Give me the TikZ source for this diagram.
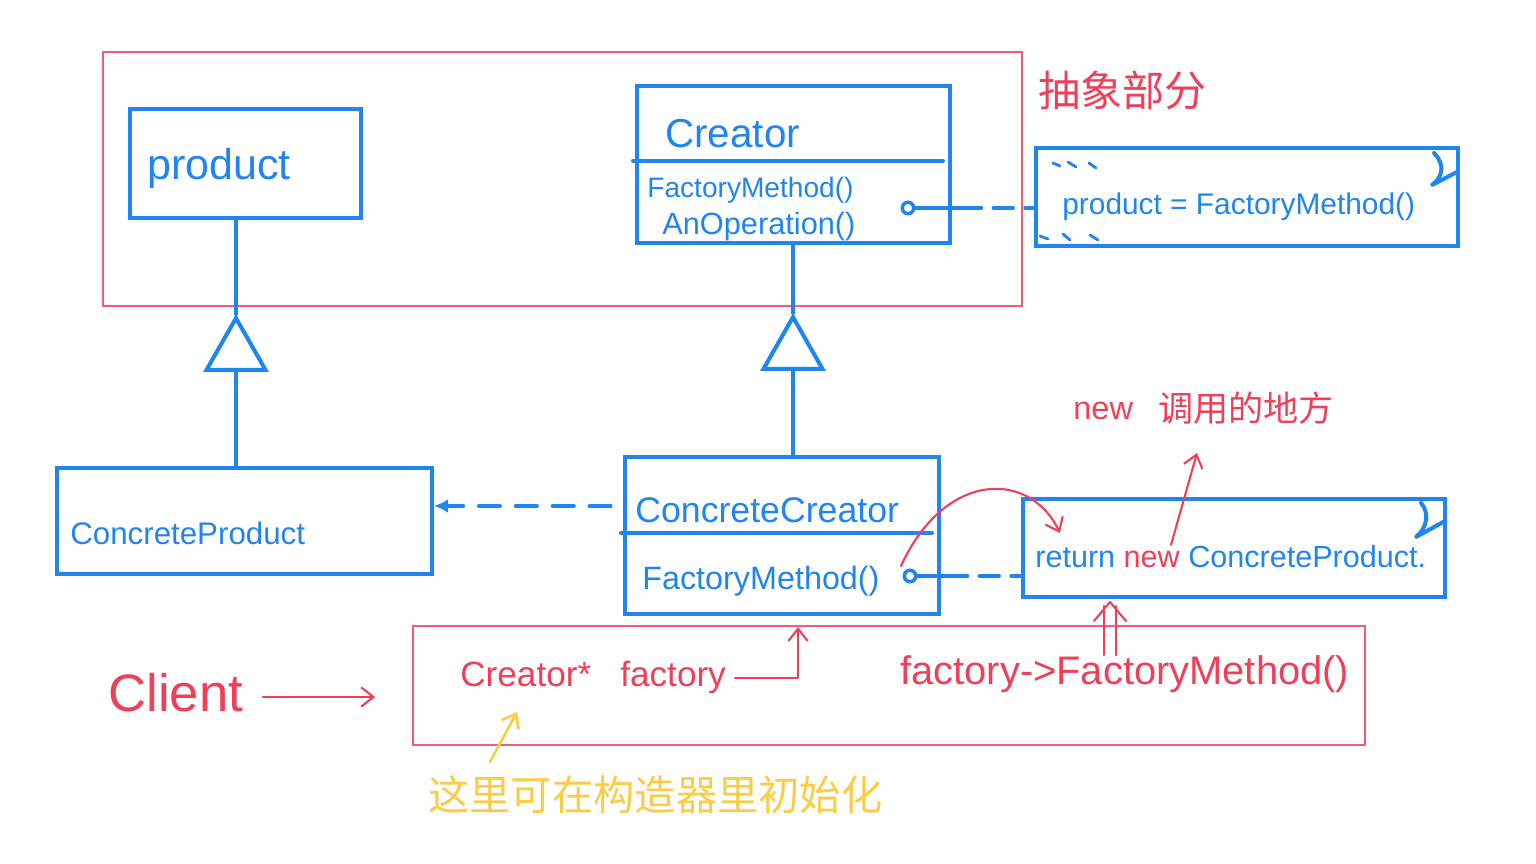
\documentclass[tikz,border=0pt]{standalone}
\usepackage{fontspec}
\setmainfont{Liberation Sans}
\newfontfamily\cjk{Noto Sans CJK SC}
\usetikzlibrary{arrows.meta,fit,calc}
\definecolor{ublue}{RGB}{33,133,240}
\definecolor{pred}{RGB}{238,64,88}
\definecolor{pyel}{RGB}{250,204,72}
\newcommand{\myfs}[1]{\fontsize{#1pt}{#1pt}\selectfont}
\begin{document}
\begin{tikzpicture}[x=0.02cm,y=-0.02cm,
  bline/.style={draw=ublue,line width=2.3pt,line cap=round,line join=round},
  ubox/.style={draw=ublue,line width=2.3pt,inner sep=0pt,rectangle},
  rbox/.style={draw=pred!85,line width=1.1pt,inner sep=0pt,rectangle},
  pen/.style={draw=pred,line width=1.2pt,line cap=round,line join=round},
  ypen/.style={draw=pyel,line width=1.5pt,line cap=round,line join=round},
  btxt/.style={text=ublue,anchor=base west,inner sep=0pt},
  rtxt/.style={text=pred,anchor=base west,inner sep=0pt},
  ucirc/.style={circle,draw=ublue,line width=2pt,fill=white,minimum size=6.5pt,inner sep=0pt},
  barb/.style={-{Straight Barb[length=7pt,width=11pt]}},
  inh/.style={-{Triangle[open,length=33pt,width=37pt]}},
  dashA/.style={dash pattern=on 11pt off 7pt},
  dashB/.style={dash pattern=on 12pt off 9pt}
]
\useasboundingbox (0,0) rectangle (1536,864);
\fill[white] (0,0) rectangle (1536,864);

% abstract part frame
\node[rbox,fit={(103,52) (1022,306)}] (abs) {};
\node[text=pred,anchor=west,inner sep=0pt,font=\cjk\myfs{24}] (abslbl) at (1038,90) {抽象部分};

% product
\node[ubox,fit={(130,109) (361,218)}] (product) {};
\node[btxt,font=\myfs{24.5}] (producttxt) at (147,180) {product};

% Creator
\node[ubox,fit={(637,86) (950,243)}] (creator) {};
\draw[bline] (633,161) -- (943,161);
\node[btxt,font=\myfs{23}] (creatortxt) at (665,148) {Creator};
\node[btxt,font=\myfs{16}] (cfm) at (647,198) {FactoryMethod()};
\node[btxt,font=\myfs{17.5}] (cop) at (662,235) {AnOperation()};

% note 1
\node[ubox,fit={(1036,148) (1458,246)}] (note1) {};
\draw[bline] (1434,153) .. controls (1446,165) and (1442,178) .. (1432,185) -- (1457,172);
\node[btxt,font=\myfs{17}] (note1txt) at (1062,215) {product = FactoryMethod()};
\draw[ublue,line width=1.6pt,line cap=round]
  (1053,163) -- (1060,166) (1068,162) -- (1076,167) (1089,163) -- (1096,168)
  (1040,236) -- (1048,239) (1063,234) -- (1070,240) (1090,235) -- (1098,240);
\node[ucirc] (c1) at (908,208) {};
\coordinate (e1) at (962,208);
\draw[bline] (c1) -- (e1);
\draw[bline,dashA] (e1) -- (note1.west |- c1);

% ConcreteProduct + inheritance
\node[ubox,fit={(57,468) (432,574)}] (cp) {};
\node[btxt,font=\myfs{17.8}] (cptxt) at (70,545) {ConcreteProduct};
\coordinate (apex1) at (236,314);
\draw[bline] (apex1) -- (apex1 |- product.south);
\draw[bline,inh] (apex1 |- cp.north) -- (apex1);

% ConcreteCreator + inheritance
\node[ubox,fit={(625,457) (939,614)}] (cc) {};
\draw[bline] (621,533) -- (932,533);
\node[btxt,font=\myfs{20.3}] (cctxt) at (635,523) {ConcreteCreator};
\node[btxt,font=\myfs{18.4}] (ccfm) at (642,590) {FactoryMethod()};
\coordinate (apex2) at (793,313);
\draw[bline] (apex2) -- (apex2 |- creator.south);
\draw[bline,inh] (apex2 |- cc.north) -- (apex2);

% dependency
\coordinate (ydep) at (0,506);
\draw[bline,dashB,-{Latex[length=8pt,width=8pt]},shorten <=7pt] (cc.west |- ydep) -- (cp.east |- ydep);

% note 2
\node[ubox,fit={(1023,499) (1445,597)}] (note2) {};
\draw[bline] (1421,503) .. controls (1430,513) and (1427,528) .. (1416,537) -- (1445,521);
\node[btxt,font=\myfs{17.4}] (note2txt) at (1035,568) {return \textcolor{pred}{new} ConcreteProduct.};
\node[ucirc] (c2) at (910,576) {};
\coordinate (e2) at (948,576);
\draw[bline] (c2) -- (e2);
\draw[bline,dashA] (e2) -- (note2.west |- c2);

% red annotations
\coordinate (cs) at (901,566);
\coordinate (ce) at (1060,533);
\draw[pen,barb] (cs) .. controls (945,470) and (1030,470) .. (ce);
\node[rtxt,font=\myfs{18.5}] (newlbl) at (1073,420) {new};
\node[text=pred,anchor=west,inner sep=0pt,font=\cjk\myfs{20}] (newcn) at (1158,408) {调用的地方};
\coordinate (newpt) at (1171,545);
\coordinate (newtip) at (1197,453);
\draw[pen,barb] (newpt) -- (newtip);

% client box
\node[rbox,fit={(413,626) (1365,745)}] (cbox) {};
\node[rtxt,font=\myfs{30}] (client) at (108,712) {Client};
\coordinate (cl) at (0,697);
\draw[pen,barb,shorten <=11pt,shorten >=21pt] (client.east |- cl) -- (cbox.west |- cl);
\node[rtxt,font=\myfs{20}] (cstar) at (460,687) {Creator*};
\node[rtxt,font=\myfs{20}] (fac) at (620,687) {factory};
\coordinate (facup) at (798,627);
\draw[pen,barb,shorten <=5pt] (fac.east) -| (facup);
\node[rtxt,font=\myfs{22.7}] (call) at (900,685) {factory->FactoryMethod()};
\draw[pen] (1104,655) -- (1104,606) (1116,655) -- (1116,606);
\draw[pen] (1094,621) -- (1110,602) -- (1126,621);

% yellow note
\node[text=pyel,anchor=west,inner sep=0pt,font=\cjk\myfs{23.5}] (ytxt) at (428,795) {这里可在构造器里初始化};
\coordinate (y1) at (490,762);
\coordinate (y2) at (517,712);
\draw[ypen,barb] (y1) -- (y2);
\end{tikzpicture}
\end{document}
